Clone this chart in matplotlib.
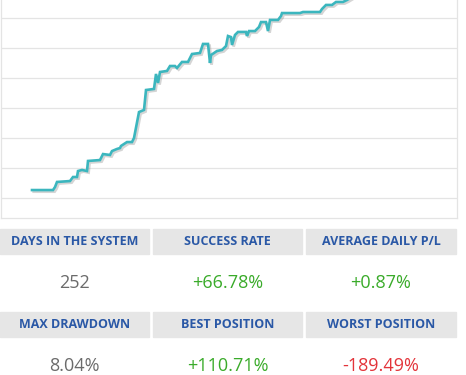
import matplotlib
matplotlib.use('Agg')
import matplotlib.pyplot as plt
import matplotlib.patheffects as pe
from matplotlib.patches import Rectangle

plt.rcParams['font.family'] = ['Open Sans', 'DejaVu Sans']

# equity curve (day, growth %)
days = [0, 21, 23, 25, 38, 41, 45, 46, 50, 55, 56, 68, 71, 78, 80, 85, 88, 89,
        95, 100, 102, 107, 112, 114, 122, 124, 126, 128, 135, 138, 143, 145,
        150, 156, 160, 168, 171, 176, 178, 179, 185, 190, 194, 196, 199, 200,
        203, 206, 214, 215, 217, 223, 227, 229, 234, 236, 238, 246, 249, 250,
        268, 271, 288, 290, 294, 300, 304, 311, 315, 320]
growth = [5.5, 5.5, 7.5, 10.9, 11.5, 14.2, 14.2, 18.2, 18.9, 18.2, 24.9, 25.5,
          29.5, 28.9, 31.5, 32.9, 33.5, 34.9, 37.5, 37.5, 40.2, 57.5, 58.9,
          72.2, 72.9, 82.9, 76.9, 84.2, 84.9, 88.2, 88.2, 86.9, 90.9, 90.9,
          96.2, 96.9, 102.9, 102.9, 90.2, 95.5, 98.2, 98.9, 101.5, 108.2,
          107.5, 102.2, 108.9, 110.9, 110.9, 108.2, 111.5, 111.5, 114.2,
          117.5, 117.5, 111.5, 118.9, 118.9, 121.5, 123.5, 123.5, 124.2,
          124.2, 126.2, 128.9, 128.9, 130.9, 130.9, 132.2, 134.2]

labels_row1 = ['DAYS IN THE SYSTEM', 'SUCCESS RATE', 'AVERAGE DAILY P/L']
values_row1 = ['252', '+66.78%', '+0.87%']
labels_row2 = ['MAX DRAWDOWN', 'BEST POSITION', 'WORST POSITION']
values_row2 = ['8.04%', '+110.71%', '-189.49%']

W, H = 466, 375
fig = plt.figure(figsize=(W / 100, H / 100), dpi=100)

# chart frame
ax = fig.add_axes([1 / W, (H - 218.3) / H, 456 / W, 218.3 / H])
ax.plot(days, growth, color='#3bb6be', lw=1.9, solid_joinstyle='miter',
        path_effects=[pe.SimpleLineShadow(offset=(1.2, -1.2), shadow_color='#888888', alpha=0.35),
                      pe.Normal()])
ax.set_xlim(-31, 425)
ax.set_ylim(-13.33, 132.2)
ax.set_yticks(range(0, 121, 20))
ax.yaxis.grid(True, color='#e4e4e4', lw=0.9)
ax.set_axisbelow(True)
ax.tick_params(left=False, bottom=False, labelleft=False, labelbottom=False)
for s in ['left', 'right', 'bottom']:
    ax.spines[s].set_color('#e4e4e4')
    ax.spines[s].set_linewidth(0.9)
ax.spines['top'].set_visible(False)

# stats table
cols = [(0, 149), (153, 302), (306, 456)]
value_colors_1 = ['#6b6b6b', '#3aab2a', '#3aab2a']
value_colors_2 = ['#6b6b6b', '#3aab2a', '#e3343a']


def draw_row(top, labels, values, colors):
    for (x0, x1), lab, val, c in zip(cols, labels, values, colors):
        fig.patches.append(Rectangle((x0 / W, 1 - (top + 25) / H), (x1 - x0) / W, 25 / H,
                                     transform=fig.transFigure, color='#e6e6e6', zorder=0))
        xc = (x0 + x1) / 2 / W
        fig.text(xc, 1 - (top + 12.5) / H, lab, ha='center', va='center',
                 fontsize=9.0, fontweight='bold', color='#2a58a6')
        fig.text(xc, 1 - (top + 53.7) / H, val, ha='center', va='center',
                 fontsize=13, color=c)


draw_row(229, labels_row1, values_row1, value_colors_1)
draw_row(312, labels_row2, values_row2, value_colors_2)

fig.savefig('out.png', dpi=100)
